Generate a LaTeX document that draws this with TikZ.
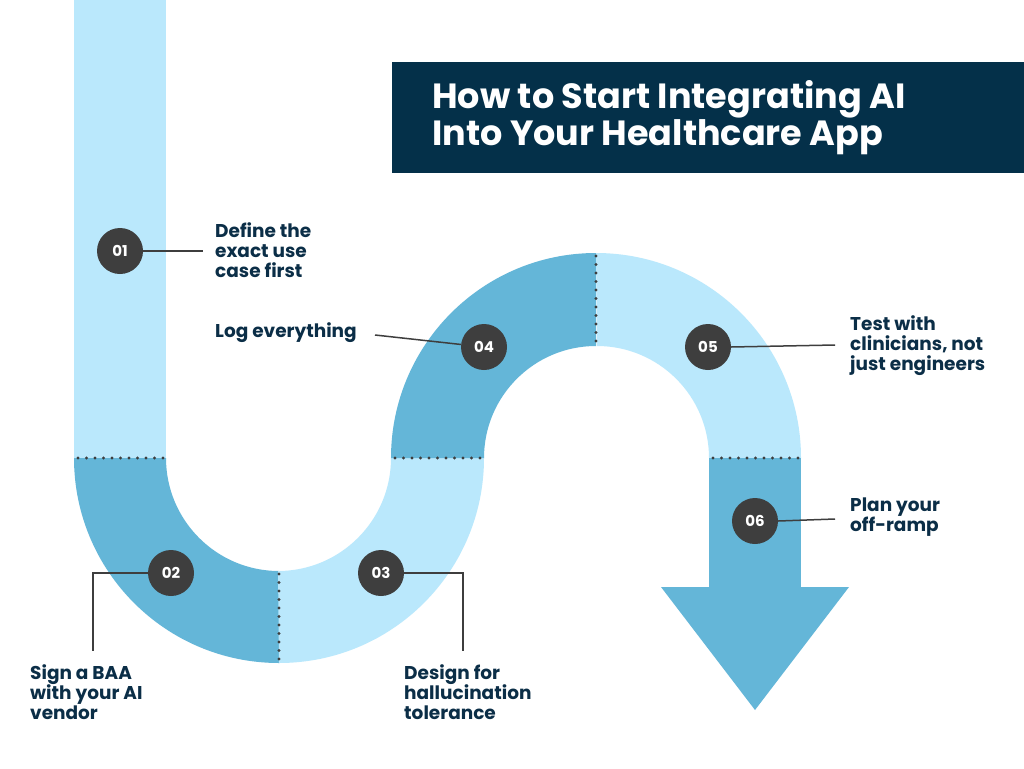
\documentclass[tikz,border=0pt]{standalone}
\usepackage{fontspec}
\setmainfont{Poppins}
\definecolor{pathlight}{HTML}{BAE8FC}
\definecolor{pathdark}{HTML}{64B6D8}
\definecolor{stepgrey}{HTML}{3E3E3E}
\definecolor{navy}{HTML}{043049}
\definecolor{labelink}{HTML}{0B2E47}
\tikzset{
  stepnum/.style={circle, fill=stepgrey, minimum size=46pt, inner sep=0pt,
    text=white, font=\bfseries\fontsize{15}{15}\selectfont},
  steptext/.style={anchor=west, align=left, inner sep=0pt, text=labelink,
    font=\bfseries\fontsize{18.5}{20}\selectfont},
  leader/.style={draw=stepgrey, line width=1.5pt},
  seam/.style={draw=stepgrey, line width=3.2pt, line cap=round, dash pattern=on 0pt off 8.5pt}
}
\begin{document}
\begin{tikzpicture}[x=1pt, y=-1pt]
    \useasboundingbox (0,0) rectangle (1024,768);
    \fill[white] (0,0) rectangle (1024,768);

    %first straight
    \fill[pathlight] (74,0) rectangle (166,458);
    %lower bend
    \fill[pathdark] (74,458) arc[start angle=180, end angle=90, radius=205]
      -- (279,571) arc[start angle=90, end angle=180, radius=113] -- cycle;
    \fill[pathlight] (279,663) arc[start angle=90, end angle=0, radius=205]
      -- (391,458) arc[start angle=0, end angle=90, radius=113] -- cycle;
    %upper bend
    \fill[pathdark] (391,458) arc[start angle=180, end angle=270, radius=205]
      -- (596,346) arc[start angle=270, end angle=180, radius=112] -- cycle;
    \fill[pathlight] (596,253) arc[start angle=270, end angle=360, radius=205]
      -- (709,458) arc[start angle=360, end angle=270, radius=112] -- cycle;
    %arrow
    \fill[pathdark] (709,458) rectangle (801,588);
    \fill[pathdark] (661,587) -- (849,587) -- (755,710) -- cycle;

    %seams
    \draw[seam] (78,458) -- (166,458);
    \draw[seam] (279,574) -- (279,663);
    \draw[seam] (395,458) -- (484,458);
    \draw[seam] (596,256) -- (596,346);
    \draw[seam] (713,458) -- (801,458);

    %title
    \fill[navy] (392,62) rectangle (1024,173);
    \node[anchor=west, align=left, inner sep=0pt, text=white,
      font=\bfseries\fontsize{35}{37}\selectfont] (title) at (432,118)
      {How to Start Integrating AI\\Into Your Healthcare App};

    %steps
    \node[stepnum] (num1) at (120,251) {01};
    \node[stepnum] (num2) at (171,573) {02};
    \node[stepnum] (num3) at (381,573) {03};
    \node[stepnum] (num4) at (484,347) {04};
    \node[stepnum] (num5) at (708,347) {05};
    \node[stepnum] (num6) at (755,521) {06};

    \node[steptext] (txt1) at (215,250) {Define the\\exact use\\case first};
    \node[steptext] (txt2) at (30,692) {Sign a BAA\\with your AI\\vendor};
    \node[steptext] (txt3) at (404,692) {Design for\\hallucination\\tolerance};
    \node[steptext] (txt4) at (215,333) {Log everything};
    \node[steptext] (txt5) at (850,346) {Test with\\clinicians, not\\just engineers};
    \node[steptext] (txt6) at (850,517) {Plan your\\off-ramp};

    %leaders
    \coordinate (end1) at (203,251);
    \coordinate (bend2) at (93,573);
    \coordinate (end2) at (93,651);
    \coordinate (bend3) at (463,573);
    \coordinate (end3) at (463,651);
    \coordinate (end4) at (375,335);
    \coordinate (end5) at (835,345);
    \coordinate (end6) at (835,519);
    \draw[leader] (num1.east) -- (end1);
    \draw[leader] (num2.west) -- (bend2) -- (end2);
    \draw[leader] (num3.east) -- (bend3) -- (end3);
    \draw[leader] (end4) -- (num4);
    \draw[leader] (num5.east) -- (end5);
    \draw[leader] (num6.east) -- (end6);
\end{tikzpicture}
\end{document}
